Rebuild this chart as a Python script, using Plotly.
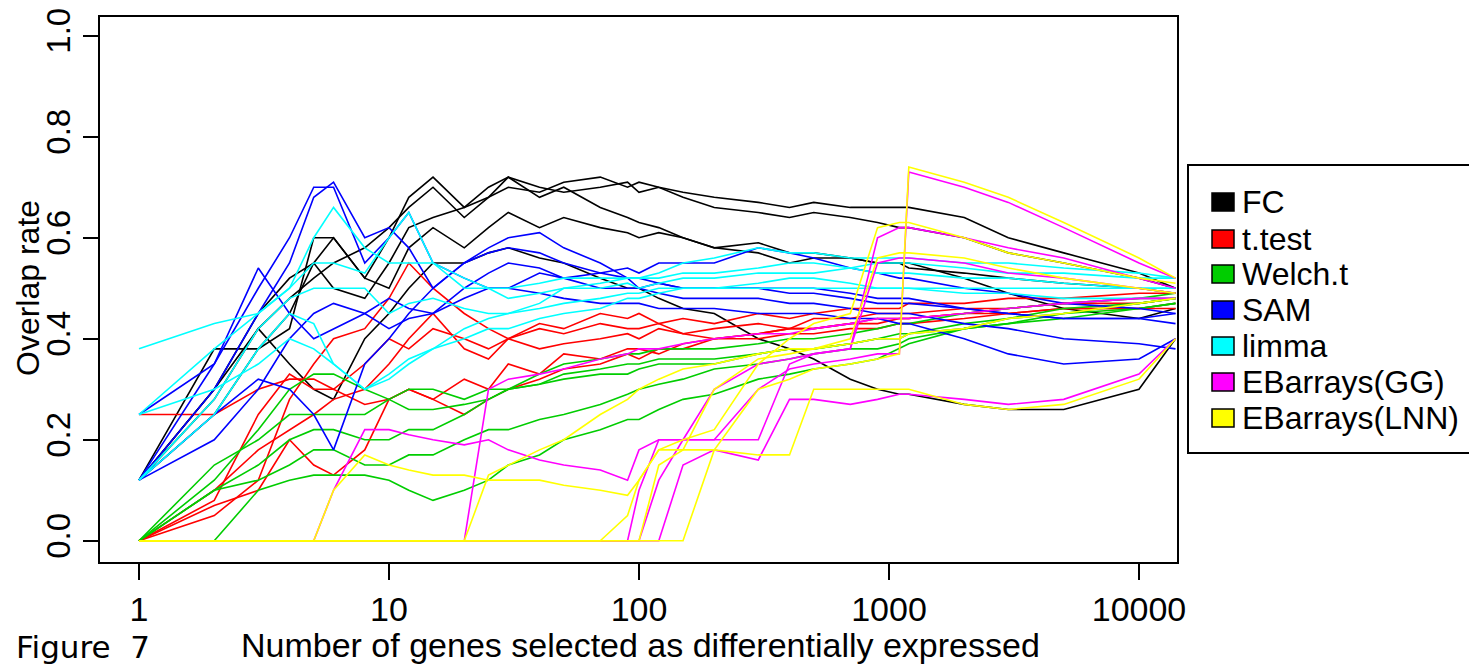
import plotly.graph_objects as go

# ---------------- data ----------------
genes = [1, 2, 3, 4, 5, 6, 8, 10, 12, 15, 20, 25, 30, 40, 50, 70, 90, 100, 120, 150,
         200, 300, 400, 500, 700, 900, 1100, 1200, 2000, 3000, 5000, 10000, 14000]

methods = ["FC", "t.test", "Welch.t", "SAM", "limma", "EBarrays(GG)", "EBarrays(LNN)"]
colors = ["#000000", "#FF0000", "#00CD00", "#0000FF", "#00FFFF", "#FF00FF", "#FFFF00"]

FC = [
    [0.12,0.30,0.45,0.52,0.55,0.50,0.48,0.55,0.62,0.64,0.66,0.68,0.70,0.69,0.71,0.72,0.70,0.71,0.70,0.69,0.68,0.67,0.66,0.67,0.66,0.66,0.66,0.66,0.64,0.60,0.57,0.53,0.50],
    [0.12,0.25,0.38,0.45,0.55,0.60,0.52,0.60,0.68,0.72,0.66,0.70,0.72,0.70,0.69,0.70,0.71,0.69,0.70,0.68,0.66,0.65,0.64,0.65,0.64,0.63,0.62,0.62,0.60,0.57,0.55,0.52,0.50],
    [0.12,0.38,0.38,0.42,0.60,0.60,0.52,0.50,0.58,0.62,0.58,0.62,0.65,0.62,0.64,0.62,0.61,0.60,0.61,0.60,0.58,0.57,0.55,0.56,0.56,0.55,0.55,0.54,0.53,0.52,0.51,0.50,0.49],
    [0.12,0.28,0.42,0.35,0.30,0.28,0.40,0.45,0.50,0.55,0.55,0.57,0.58,0.56,0.55,0.52,0.50,0.50,0.48,0.46,0.45,0.40,0.38,0.36,0.32,0.30,0.29,0.29,0.27,0.26,0.26,0.30,0.40],
    [0.12,0.30,0.42,0.48,0.52,0.55,0.58,0.62,0.66,0.70,0.64,0.68,0.72,0.68,0.70,0.66,0.64,0.63,0.62,0.60,0.58,0.59,0.57,0.57,0.56,0.55,0.55,0.55,0.52,0.49,0.46,0.44,0.46],
]
TTEST = [
    [0.25,0.25,0.30,0.32,0.32,0.30,0.35,0.40,0.38,0.42,0.40,0.38,0.40,0.42,0.41,0.43,0.42,0.42,0.43,0.41,0.42,0.43,0.42,0.44,0.44,0.45,0.45,0.45,0.46,0.46,0.47,0.48,0.48],
    [0.00,0.05,0.12,0.28,0.35,0.40,0.42,0.48,0.55,0.50,0.45,0.42,0.40,0.38,0.39,0.40,0.41,0.40,0.42,0.41,0.40,0.41,0.42,0.42,0.43,0.43,0.44,0.44,0.45,0.46,0.47,0.47,0.48],
    [0.00,0.08,0.25,0.33,0.30,0.30,0.27,0.28,0.30,0.28,0.32,0.30,0.35,0.33,0.37,0.36,0.38,0.38,0.37,0.39,0.40,0.40,0.41,0.41,0.42,0.42,0.43,0.43,0.44,0.45,0.46,0.46,0.47],
    [0.00,0.07,0.10,0.20,0.15,0.13,0.18,0.28,0.30,0.28,0.25,0.28,0.30,0.32,0.34,0.35,0.37,0.36,0.38,0.38,0.40,0.41,0.42,0.42,0.43,0.44,0.44,0.44,0.45,0.45,0.46,0.46,0.46],
    [0.00,0.10,0.18,0.22,0.25,0.28,0.30,0.35,0.40,0.45,0.38,0.36,0.40,0.43,0.42,0.45,0.44,0.45,0.43,0.44,0.43,0.45,0.44,0.45,0.46,0.46,0.46,0.47,0.47,0.48,0.48,0.49,0.49],
]
WELCH = [
    [0.00,0.15,0.20,0.25,0.25,0.25,0.25,0.28,0.30,0.30,0.28,0.30,0.30,0.31,0.33,0.34,0.35,0.35,0.36,0.36,0.36,0.37,0.38,0.38,0.39,0.40,0.40,0.41,0.42,0.43,0.44,0.46,0.47],
    [0.00,0.10,0.15,0.20,0.22,0.22,0.20,0.20,0.22,0.22,0.25,0.28,0.30,0.31,0.32,0.33,0.33,0.34,0.35,0.35,0.35,0.37,0.38,0.38,0.39,0.40,0.41,0.41,0.43,0.44,0.45,0.47,0.48],
    [0.00,0.10,0.12,0.15,0.18,0.18,0.15,0.15,0.17,0.17,0.20,0.22,0.22,0.24,0.25,0.27,0.29,0.30,0.31,0.32,0.34,0.35,0.36,0.37,0.38,0.38,0.39,0.40,0.42,0.43,0.45,0.46,0.47],
    [0.00,0.00,0.10,0.12,0.13,0.13,0.13,0.12,0.10,0.08,0.10,0.12,0.15,0.17,0.20,0.22,0.24,0.24,0.26,0.28,0.29,0.32,0.33,0.34,0.35,0.36,0.38,0.39,0.42,0.44,0.46,0.47,0.48],
    [0.00,0.12,0.22,0.30,0.33,0.33,0.30,0.28,0.26,0.26,0.27,0.28,0.30,0.33,0.35,0.36,0.37,0.37,0.38,0.38,0.38,0.39,0.40,0.40,0.41,0.42,0.43,0.43,0.45,0.46,0.47,0.48,0.49],
]
SAM = [
    [0.12,0.35,0.50,0.60,0.70,0.70,0.55,0.60,0.65,0.55,0.52,0.50,0.50,0.53,0.52,0.53,0.54,0.53,0.55,0.55,0.55,0.58,0.57,0.56,0.54,0.53,0.52,0.52,0.50,0.49,0.47,0.46,0.45],
    [0.12,0.30,0.45,0.55,0.68,0.71,0.60,0.62,0.58,0.50,0.55,0.58,0.60,0.61,0.58,0.55,0.52,0.50,0.51,0.50,0.50,0.50,0.49,0.49,0.48,0.47,0.47,0.47,0.46,0.45,0.44,0.44,0.43],
    [0.25,0.35,0.54,0.45,0.40,0.42,0.45,0.48,0.46,0.45,0.50,0.53,0.55,0.54,0.52,0.50,0.50,0.50,0.49,0.48,0.48,0.48,0.47,0.47,0.46,0.45,0.45,0.45,0.43,0.42,0.40,0.39,0.38],
    [0.12,0.25,0.32,0.30,0.25,0.18,0.35,0.40,0.45,0.50,0.55,0.57,0.58,0.57,0.55,0.53,0.52,0.52,0.51,0.50,0.50,0.50,0.50,0.50,0.49,0.48,0.48,0.48,0.46,0.45,0.44,0.44,0.45],
    [0.12,0.20,0.30,0.40,0.45,0.47,0.45,0.42,0.44,0.45,0.48,0.50,0.50,0.49,0.48,0.47,0.47,0.47,0.46,0.46,0.46,0.45,0.45,0.45,0.44,0.44,0.43,0.43,0.40,0.37,0.35,0.36,0.40],
]
LIMMA = [
    [0.38,0.43,0.45,0.50,0.60,0.66,0.58,0.55,0.55,0.55,0.50,0.50,0.50,0.51,0.52,0.52,0.52,0.52,0.53,0.55,0.56,0.58,0.57,0.57,0.56,0.56,0.56,0.56,0.55,0.55,0.54,0.53,0.52],
    [0.25,0.38,0.45,0.50,0.55,0.55,0.53,0.60,0.65,0.55,0.52,0.50,0.48,0.49,0.50,0.50,0.51,0.50,0.51,0.52,0.52,0.53,0.53,0.53,0.54,0.55,0.55,0.55,0.54,0.53,0.53,0.52,0.52],
    [0.25,0.30,0.35,0.40,0.38,0.35,0.30,0.32,0.35,0.38,0.40,0.42,0.42,0.44,0.45,0.46,0.48,0.48,0.49,0.50,0.50,0.51,0.52,0.52,0.51,0.50,0.50,0.50,0.50,0.50,0.50,0.50,0.50],
    [0.12,0.25,0.38,0.45,0.43,0.35,0.30,0.33,0.36,0.38,0.42,0.44,0.45,0.47,0.50,0.51,0.52,0.52,0.52,0.53,0.53,0.54,0.55,0.55,0.54,0.53,0.53,0.53,0.52,0.52,0.51,0.50,0.50],
    [0.12,0.28,0.42,0.48,0.50,0.50,0.50,0.45,0.47,0.48,0.46,0.45,0.45,0.46,0.47,0.48,0.49,0.49,0.50,0.50,0.50,0.50,0.50,0.50,0.50,0.50,0.50,0.50,0.49,0.49,0.48,0.48,0.48],
]
EB_GG = [
    [0,0,0,0,0,0.10,0.22,0.22,0.21,0.20,0.19,0.20,0.18,0.16,0.15,0.14,0.12,0.18,0.20,0.20,0.20,0.30,0.34,0.35,0.36,0.37,0.37,0.73,0.70,0.67,0.62,0.55,0.52],
    [0,0,0,0,0,0,0,0,0,0,0,0.30,0.32,0.33,0.34,0.36,0.37,0.38,0.38,0.39,0.40,0.41,0.41,0.42,0.43,0.44,0.44,0.44,0.45,0.46,0.47,0.48,0.48],
    [0,0,0,0,0,0,0,0,0,0,0,0,0,0,0,0,0,0.10,0.20,0.20,0.20,0.20,0.35,0.37,0.38,0.60,0.62,0.62,0.60,0.58,0.56,0.52,0.50],
    [0,0,0,0,0,0,0,0,0,0,0,0,0,0,0,0,0,0,0,0.15,0.18,0.16,0.28,0.28,0.27,0.28,0.29,0.29,0.28,0.27,0.28,0.33,0.40],
    [0,0,0,0,0,0,0,0,0,0,0,0,0,0,0,0,0,0,0.12,0.20,0.30,0.35,0.36,0.37,0.38,0.55,0.56,0.56,0.55,0.53,0.52,0.50,0.49],
]
EB_LNN = [
    [0,0,0,0,0,0.10,0.17,0.15,0.14,0.13,0.13,0.12,0.12,0.12,0.11,0.10,0.09,0.12,0.18,0.18,0.18,0.30,0.32,0.34,0.35,0.36,0.37,0.74,0.71,0.68,0.63,0.56,0.52],
    [0,0,0,0,0,0,0,0,0,0,0,0.13,0.15,0.18,0.20,0.25,0.28,0.30,0.32,0.34,0.35,0.37,0.38,0.38,0.39,0.40,0.40,0.41,0.42,0.44,0.45,0.47,0.48],
    [0,0,0,0,0,0,0,0,0,0,0,0,0,0,0,0,0,0,0,0,0.18,0.17,0.17,0.30,0.30,0.30,0.30,0.30,0.27,0.26,0.27,0.32,0.40],
    [0,0,0,0,0,0,0,0,0,0,0,0,0,0,0,0,0.05,0.12,0.18,0.20,0.22,0.35,0.40,0.43,0.45,0.62,0.63,0.63,0.60,0.57,0.55,0.52,0.51],
    [0,0,0,0,0,0,0,0,0,0,0,0,0,0,0,0,0,0,0.15,0.18,0.30,0.36,0.37,0.38,0.40,0.56,0.57,0.57,0.56,0.54,0.52,0.50,0.49],
]

x_ticks = [1, 10, 100, 1000, 10000]
x_tick_labels = ["1", "10", "100", "1000", "10000"]
y_ticks = [0.0, 0.2, 0.4, 0.6, 0.8, 1.0]
y_tick_labels = ["0.0", "0.2", "0.4", "0.6", "0.8", "1.0"]

# ---------------- figure ----------------
W, H = 1477, 664
OFF = 8  # page body margin in the browser
# plot box in screenshot pixels
L, R, T, B = 100, 1177, 17, 562
l_fig, r_fig, t_fig, b_fig = L - OFF, R - OFF, T - OFF, B - OFF


def px_x(p):
    return (p - OFF - l_fig) / (r_fig - l_fig)


def px_y(p):
    return (b_fig - (p - OFF)) / (b_fig - t_fig)


FONT = "Liberation Sans, Arial, sans-serif"
fig = go.Figure()

groups = [FC, TTEST, WELCH, SAM, LIMMA, EB_GG, EB_LNN]
for name, col, lines in zip(methods, colors, groups):
    for ys in lines:
        fig.add_trace(go.Scatter(x=genes, y=ys, mode="lines",
                                 line=dict(color=col, width=1.6),
                                 name=name, showlegend=False, hoverinfo="skip"))

fig.update_layout(
    width=W, height=H,
    margin=dict(l=l_fig, r=W - r_fig, t=t_fig, b=H - b_fig, pad=0, autoexpand=False),
    paper_bgcolor="white", plot_bgcolor="white",
    font=dict(family=FONT, size=34, color="black"),
    xaxis=dict(type="log", range=[-0.156, 4.152], tickvals=x_ticks, ticktext=x_tick_labels,
               showgrid=False, zeroline=False, showline=True, mirror=True, automargin=False,
               linecolor="black", linewidth=2, ticks="outside", ticklen=16,
               tickwidth=2, tickcolor="black", tickfont=dict(size=34)),
    yaxis=dict(range=[-0.042, 1.037], tickvals=y_ticks, ticktext=y_tick_labels,
               showgrid=False, zeroline=False, showline=True, mirror=True, automargin=False,
               linecolor="black", linewidth=2, ticks="outside", ticklen=15,
               tickwidth=2, tickcolor="black", tickangle=-90, tickfont=dict(size=33),
               ticklabeloverflow="allow"),
)

# axis titles and figure label
fig.add_annotation(text="Number of genes selected as differentially expressed",
                   xref="paper", yref="paper", x=px_x(640), y=px_y(645),
                   xanchor="center", yanchor="middle", showarrow=False,
                   font=dict(size=34))
fig.add_annotation(text="Overlap rate", xref="paper", yref="paper",
                   x=px_x(28), y=px_y(288), textangle=-90,
                   xanchor="center", yanchor="middle", showarrow=False,
                   font=dict(size=32))
fig.add_annotation(text="Figure&nbsp;&nbsp;7", xref="paper", yref="paper",
                   x=px_x(14), y=px_y(647), xanchor="left", yanchor="middle",
                   showarrow=False, font=dict(size=31, family="DejaVu Sans"))

# legend (drawn like R's legend box)
fig.add_shape(type="rect", xref="paper", yref="paper",
              x0=px_x(1188), x1=px_x(1500), y0=px_y(453), y1=px_y(165),
              line=dict(color="black", width=2), fillcolor="white", layer="above")
legend_y = [202, 239, 274, 310, 346, 382, 418]
for name, col, cy in zip(methods, colors, legend_y):
    fig.add_shape(type="rect", xref="paper", yref="paper",
                  x0=px_x(1212), x1=px_x(1234), y0=px_y(cy + 9), y1=px_y(cy - 9),
                  line=dict(color="black", width=1.5), fillcolor=col, layer="above")
    fig.add_annotation(text=name, xref="paper", yref="paper",
                       x=px_x(1240), y=px_y(cy), xanchor="left", yanchor="middle",
                       showarrow=False, font=dict(size=32))

fig.write_html("out.html")
